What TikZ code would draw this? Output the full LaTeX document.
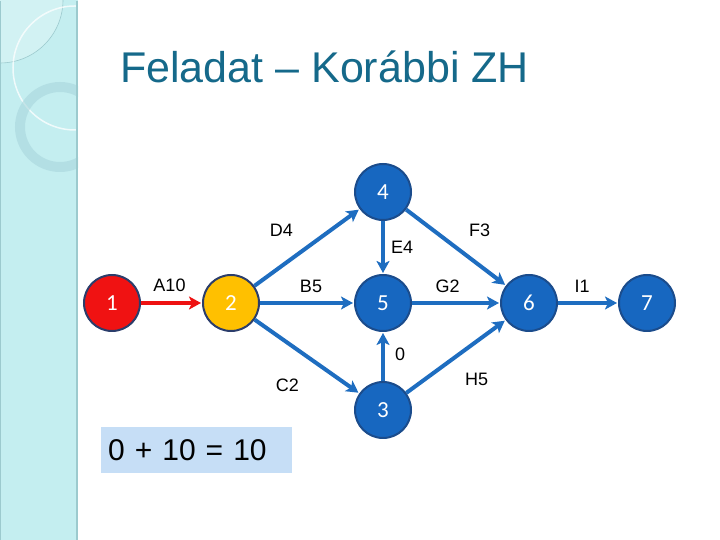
\documentclass[tikz,border=0pt]{standalone}
\usepackage{fontspec}
\setmainfont{Liberation Sans}
\newfontfamily\calibri{Carlito}
\usepackage{tikz}
\usetikzlibrary{arrows,arrows.meta,automata}
\definecolor{band}{HTML}{C4EEF0}
\definecolor{bandedge}{HTML}{9CCACE}
\definecolor{ring}{HTML}{A9D6DC}
\definecolor{titleteal}{HTML}{15698A}
\definecolor{nodeblue}{HTML}{1767C0}
\definecolor{nodeedge}{HTML}{1B4C8C}
\definecolor{lineblue}{HTML}{1E6DC0}
\definecolor{arrowred}{HTML}{EE1111}
\definecolor{startred}{HTML}{F01212}
\definecolor{doneyellow}{HTML}{FFC000}
\definecolor{darkedge}{HTML}{2B3D6B}
\definecolor{boxblue}{HTML}{C6DEF6}

\begin{document}
\begin{tikzpicture}[->,>={Stealth[length=12pt,width=13pt,inset=3pt]},shorten >=1pt,auto,x=1pt,y=1pt,
        every state/.style={circle,fill=nodeblue,draw=nodeedge,line width=2pt,
            minimum size=56pt,inner sep=0pt,text=white,
            font=\calibri\fontsize{23}{25}\selectfont},
        every edge/.style={draw=lineblue,line width=4pt},
        lbl/.style={font=\fontsize{18}{20}\selectfont,text=black,inner sep=2pt}]

    \useasboundingbox (0,0) rectangle (720,540);

    % side band
    \begin{scope}[-]
    \fill[band] (0,0) rectangle (78,540);
    \clip (0,0) rectangle (78,540);
    \fill[white,opacity=0.25] (0,540) circle (63);
    \draw[bandedge,line width=0.6pt] (0,540) circle (63);
    \draw[white,opacity=0.75,line width=1.5pt] (75,472) circle (62);
    \draw[ring,opacity=0.6,line width=10pt] (60,413) circle (40);
    \end{scope}
    \draw[-,bandedge,line width=2pt] (77,0) -- (77,540);
    \draw[-,bandedge,line width=1pt] (0.5,0) -- (0.5,540);

    \node[anchor=base west,inner sep=0pt,text=titleteal,
        font=\fontsize{43}{50}\selectfont] (title) at (120,457) {Feladat – Korábbi ZH};

    \node[state,fill=startred,draw=darkedge] (1) at (112,237) {1};
    \node[state,fill=doneyellow,draw=darkedge] (2) at (231,237) {2};
    \node[state] (4) at (383,348) {4};
    \node[state] (5) at (383,237) {5};
    \node[state] (3) at (383,130) {3};
    \node[state] (6) at (529,237) {6};
    \node[state] (7) at (647,237) {7};

    \path (1) edge[draw=arrowred] node[lbl,xshift=-2pt,yshift=7pt] {A10} (2);
    \path (2) edge node[lbl,xshift=-10pt,yshift=7pt] {D4} (4);
    \path (2) edge node[lbl,xshift=4pt,yshift=6pt] {B5} (5);
    \path (2) edge node[lbl,swap,xshift=-4pt,yshift=-18pt] {C2} (3);
    \path (4) edge node[lbl,xshift=4pt] {E4} (5);
    \path (4) edge node[lbl,xshift=9pt,yshift=7pt] {F3} (6);
    \path (3) edge node[lbl,swap,xshift=8pt,yshift=2pt] {0} (5);
    \path (5) edge node[lbl,pos=0.45,xshift=-4pt,yshift=6pt] {G2} (6);
    \path (3) edge node[lbl,swap,xshift=5pt,yshift=-13pt] {H5} (6);
    \path (6) edge node[lbl,xshift=-6pt,yshift=6pt] {I1} (7);

    \node[-,fill=boxblue,anchor=west,minimum height=46pt,inner xsep=7pt,
        text width=177pt,align=left,font=\fontsize{30}{34}\selectfont] (sum) at (101,90) {0 + 10 = 10};

\end{tikzpicture}
\end{document}
